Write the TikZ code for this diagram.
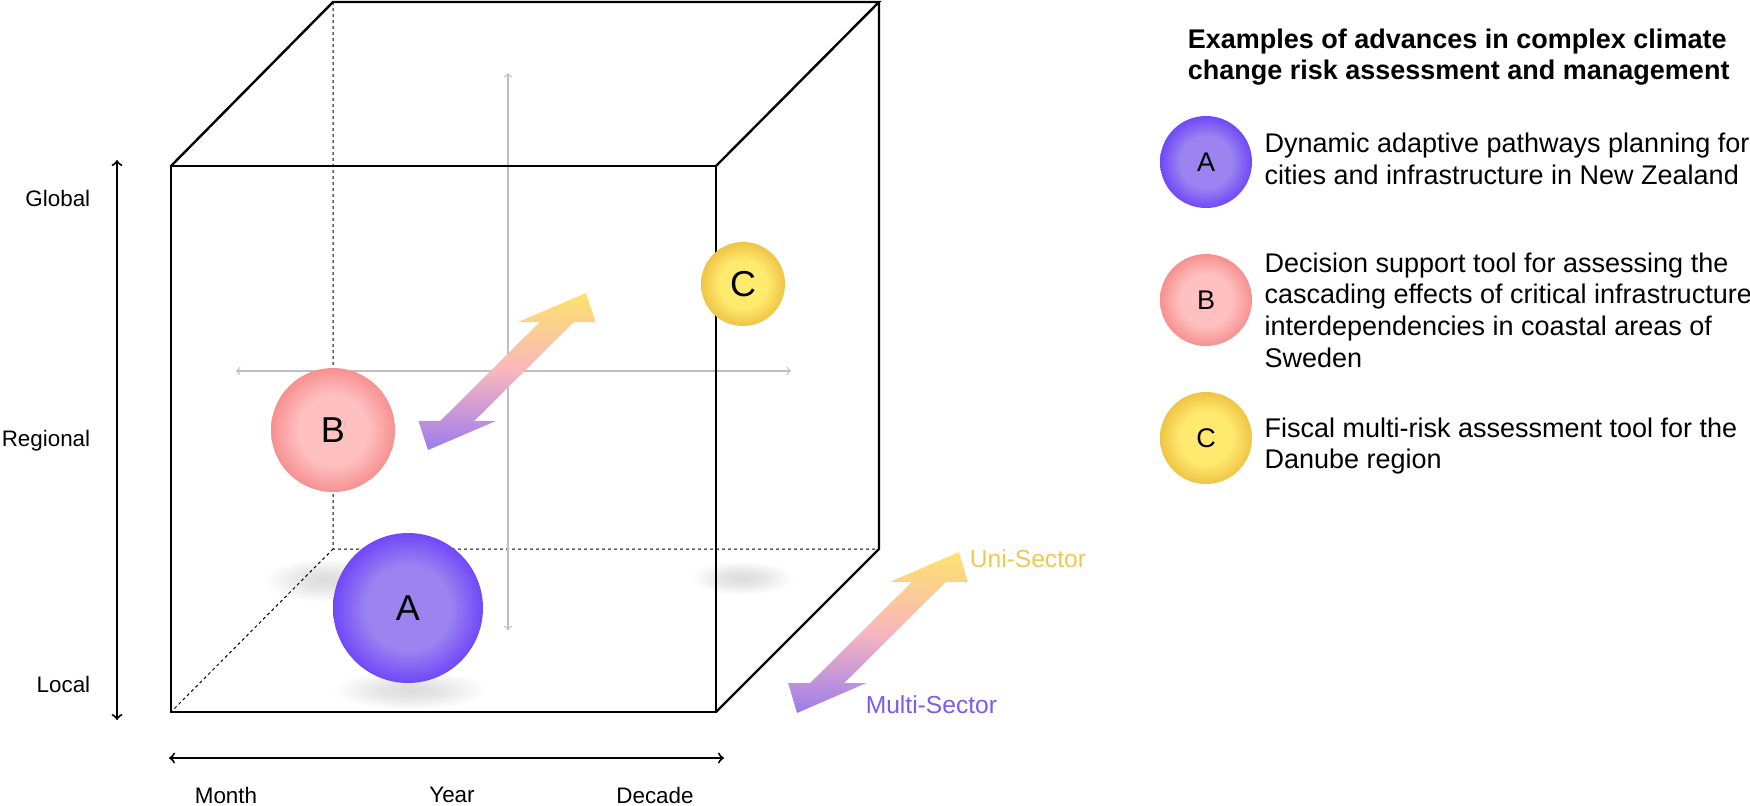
\documentclass[tikz,border=0pt]{standalone}
\usepackage{fontspec}
\setmainfont{Liberation Sans}
\usetikzlibrary{arrows,positioning}

\definecolor{aIn}{HTML}{9B84F0}  \definecolor{aOut}{HTML}{7048F8}
\definecolor{bIn}{HTML}{FFC0C0}  \definecolor{bOut}{HTML}{F79090}
\definecolor{cIn}{HTML}{FFEA70}  \definecolor{cOut}{HTML}{EFC445}
\definecolor{secPurple}{HTML}{9C7CEE}
\definecolor{secPink}{HTML}{F8B6BE}
\definecolor{secYellow}{HTML}{FDE26C}
\definecolor{uniCol}{HTML}{F0C850}
\definecolor{multiCol}{HTML}{7D5AF0}

\pgfdeclareradialshading{ballA}{\pgfpoint{0bp}{0bp}}{color(0bp)=(aIn); color(14bp)=(aIn); color(25bp)=(aOut); color(50bp)=(aOut)}
\pgfdeclareradialshading{ballB}{\pgfpoint{0bp}{0bp}}{color(0bp)=(bIn); color(14bp)=(bIn); color(25bp)=(bOut); color(50bp)=(bOut)}
\pgfdeclareradialshading{ballC}{\pgfpoint{0bp}{0bp}}{color(0bp)=(cIn); color(14bp)=(cIn); color(25bp)=(cOut); color(50bp)=(cOut)}
\pgfdeclareradialshading{blur}{\pgfpoint{0bp}{0bp}}{color(0bp)=(black!14); color(10bp)=(black!10); color(25bp)=(white); color(50bp)=(white)}
\pgfdeclareverticalshading{sectorgrad}{100bp}{color(0bp)=(secPurple); color(25bp)=(secPurple); color(50bp)=(secPink); color(75bp)=(secYellow); color(100bp)=(secYellow)}

% flat double arrow lying on the floor of the cube
\newcommand\SectorArrow[4]{%
  \begin{scope}[shift={(#1,#2)},y={(#3,#4)}]
    \shade[shading=sectorgrad] (0,0) -- (-39,0.186) -- (-17,0.186) -- (-17,0.814)
      -- (-39,0.814) -- (0,1) -- (39,0.814) -- (17,0.814) -- (17,0.186) -- (39,0.186) -- cycle;
  \end{scope}}

\begin{document}
\begin{tikzpicture}[x=0.5pt,y=-0.5pt,>=to,thick]
\tikzset{ball/.style = {circle,inner sep=0pt,shade,
                        font=\fontsize{18}{20}\selectfont},
         legball/.style = {ball,minimum size=46pt,
                        font=\fontsize{13.5}{15.8}\selectfont},
         legtext/.style = {align=left,inner sep=0pt,
                        font=\fontsize{13.5}{15.8}\selectfont},
         lbl/.style = {inner sep=0pt,font=\fontsize{11.2}{13}\selectfont},
         cube/.style = {line width=1.2pt},
         hidden/.style = {line width=0.5pt,dash pattern=on 1.5pt off 1.5pt},
         guide/.style = {<->,black!25,line width=0.6pt},
         axisline/.style = {<->,line width=1pt}}
\useasboundingbox (0,0) rectangle (1750,805);

% shadows on the floor
\shade[shading=blur] (325,580) ellipse [x radius=62,y radius=22];
\shade[shading=blur] (742,578) ellipse [x radius=52,y radius=17];
\shade[shading=blur] (410,690) ellipse [x radius=78,y radius=20];

% cube
\coordinate (f1) at (171,166); \coordinate (f2) at (716,166);
\coordinate (f3) at (716,712); \coordinate (f4) at (171,712);
\coordinate (b1) at (333,2);   \coordinate (b2) at (879,2);
\coordinate (b3) at (879,549); \coordinate (b4) at (333,549);
\draw[hidden] (b1) -- (b4) -- (b3) (b4) -- (f4);
\coordinate (gT) at (508,73);  \coordinate (gB) at (508,630);
\coordinate (gL) at (236,371); \coordinate (gR) at (791,371);
\draw[guide] (gT) -- (gB);
\draw[guide] (gL) -- (gR);
\draw[cube] (f1) -- (f2) -- (f3) -- (f4) -- cycle;
\draw[cube] (f1) -- (b1) -- (b2) -- (f2) (b2) -- (b3) -- (f3);

% examples inside the cube
\node[ball,shading=ballB,minimum size=62pt] (B) at (333,430) {B};
\node[ball,shading=ballA,minimum size=75pt] (A) at (408,608) {A};
\node[ball,shading=ballC,minimum size=42pt] (C) at (743,284) {C};
\SectorArrow{428}{450}{158}{-157}
\SectorArrow{797}{713}{162}{-161}
\node[lbl,anchor=west,text=uniCol,font=\fontsize{12.3}{14}\selectfont] (uni) at (969,559) {Uni-Sector};
\node[lbl,anchor=west,text=multiCol,font=\fontsize{12.3}{14}\selectfont] (multi) at (865,705) {Multi-Sector};

% scales
\coordinate (sT) at (117,160); \coordinate (sB) at (117,720);
\draw[axisline] (sT) -- (sB);
\node[lbl,anchor=east] (global) at (91,198) {Global};
\node[lbl,anchor=east] (regional) at (91,441) {Regional};
\node[lbl,anchor=east] (local) at (91,684) {Local};
\coordinate (tL) at (169,758); \coordinate (tR) at (724,758);
\draw[axisline] (tL) -- (tR);
\node[lbl] (month) at (226,795) {Month};
\node[lbl] (year) at (452,795) {Year};
\node[lbl] (decade) at (655,795) {Decade};

% legend
\node[legtext,anchor=west,font=\bfseries\fontsize{13.5}{15.5}\selectfont] (title) at (1187,57)
  {Examples of advances in complex climate\\change risk assessment and management};
\node[legball,shading=ballA] (legA) at (1206,162) {A};
\node[legball,shading=ballB] (legB) at (1206,300) {B};
\node[legball,shading=ballC] (legC) at (1206,438) {C};
\node[legtext,right=5.5pt of legA,yshift=1.5pt] (txtA)
  {Dynamic adaptive pathways planning for\\cities and infrastructure in New Zealand};
\node[legtext,right=5.5pt of legB,yshift=-5pt] (txtB)
  {Decision support tool for assessing the\\cascading effects of critical infrastructure\\interdependencies in coastal areas of\\Sweden};
\node[legtext,right=5.5pt of legC,yshift=-4pt] (txtC)
  {Fiscal multi-risk assessment tool for the\\Danube region};
\end{tikzpicture}
\end{document}
